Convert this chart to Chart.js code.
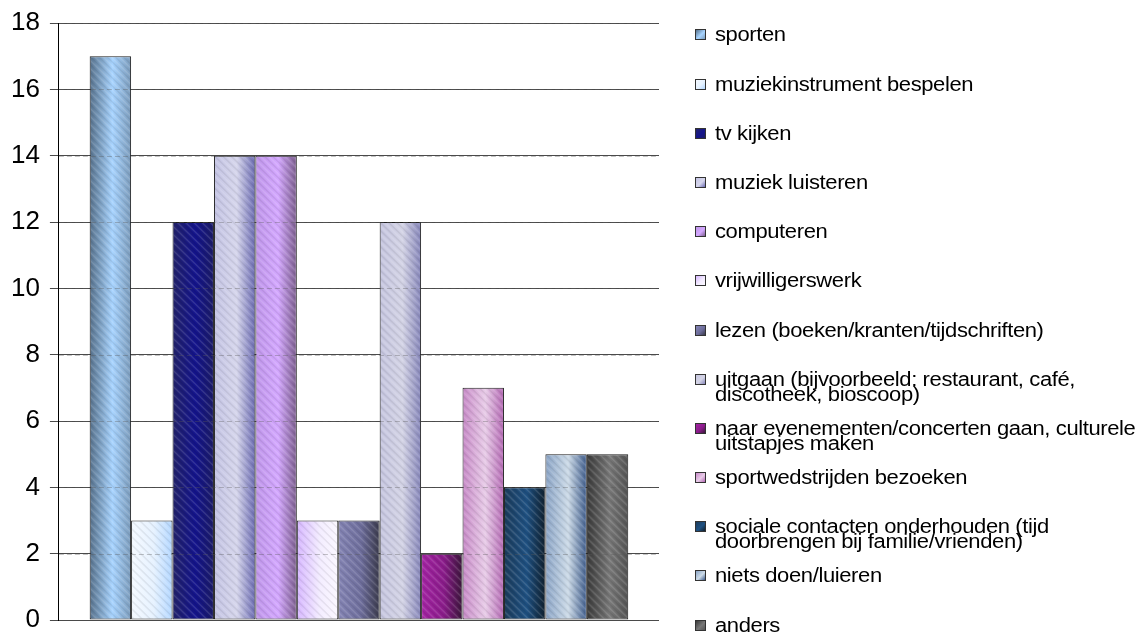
<!DOCTYPE html>
<html>
<head>
<meta charset="utf-8">
<script src="https://cdn.jsdelivr.net/npm/chart.js@4/dist/chart.umd.min.js"></script>
<style>
html,body{margin:0;padding:0;background:#fff;}
#wrap{position:relative;width:1148px;height:635px;overflow:hidden;background:#fff;}
#c{position:absolute;left:0;top:0;}
#legend{position:absolute;left:695px;top:10.4px;}
.item{height:49.2px;box-sizing:border-box;padding-top:17px;display:flex;align-items:flex-start;}
.box{width:9px;height:9px;border:1px solid #333;margin-top:2px;flex:none;}
.txt{margin-left:9px;font-family:"Liberation Sans",Arial,sans-serif;font-size:20px;letter-spacing:-0.35px;line-height:15px;color:#000;transform:scaleX(1.1);transform-origin:left top;white-space:nowrap;}
</style>
</head>
<body>
<div id="wrap">
  <canvas id="c" width="1148" height="635"></canvas>
  <div id="legend"></div>
</div>
<script>
// ---- data ----
const categories = ['vrijetijdsbesteding'];
const seriesNames = [
  ['sporten'],
  ['muziekinstrument bespelen'],
  ['tv kijken'],
  ['muziek luisteren'],
  ['computeren'],
  ['vrijwilligerswerk'],
  ['lezen (boeken/kranten/tijdschriften)'],
  ['uitgaan (bijvoorbeeld: restaurant, café,', 'discotheek, bioscoop)'],
  ['naar evenementen/concerten gaan, culturele', 'uitstapjes maken'],
  ['sportwedstrijden bezoeken'],
  ['sociale contacten onderhouden (tijd', 'doorbrengen bij familie/vrienden)'],
  ['niets doen/luieren'],
  ['anders']
];
const seriesValues = [17, 3, 12, 14, 14, 3, 3, 12, 2, 7, 4, 5, 5];
const yMin = 0, yMax = 18, yStep = 2;

// ---- styles (left edge, middle, right edge of each bar's shading) ----
const palette = [
  ['#56718c', '#a8d4ff', '#7c9cbc'],
  ['#f4f9ff', '#e6f2ff', '#b2d6ff'],
  ['#23236a', '#14148c', '#1c1c66'],
  ['#c4c4e4', '#d6d6ec', '#6a6ab2'],
  ['#bf96ea', '#d4a8ff', '#7c5e8e'],
  ['#d6b6ff', '#f3ecff', '#fbf8ff'],
  ['#8484b4', '#6e6e9c', '#3a3a4c'],
  ['#c6c6e0', '#d4d4e6', '#8686ba'],
  ['#a424a4', '#8a1c8a', '#3a163a'],
  ['#c88ac8', '#e8cce8', '#b468b4'],
  ['#1c3c5c', '#1f5182', '#10202e'],
  ['#8aa4c6', '#cddbe8', '#3e5c8c'],
  ['#3a3a3a', '#787878', '#555555']
];
const catPct = 0.8975;

function barGradient(ctx) {
  const chart = ctx.chart;
  const i = ctx.datasetIndex;
  const cols = palette[i];
  const xs = chart.scales && chart.scales.x;
  if (!chart.chartArea || !xs) return cols[1];
  const center = xs.getPixelForValue(0);
  const catW = xs.width * catPct;
  const bw = catW / seriesValues.length;
  const left = center - catW / 2 + i * bw;
  const g = chart.ctx.createLinearGradient(left, 0, left + bw, 0);
  g.addColorStop(0, cols[0]);
  g.addColorStop(0.55, cols[1]);
  g.addColorStop(1, cols[2]);
  return g;
}

const overlayPlugin = {
  id: 'overlay',
  afterDatasetsDraw(chart) {
    const c = chart.ctx;
    const area = chart.chartArea;
    chart.data.datasets.forEach((ds, di) => {
      const meta = chart.getDatasetMeta(di);
      meta.data.forEach(el => {
        const p = el.getProps(['x', 'y', 'base', 'width'], true);
        const l = p.x - p.width / 2, r = p.x + p.width / 2;
        const t = Math.min(p.y, p.base), b = Math.max(p.y, p.base);
        c.save();
        c.beginPath();
        c.rect(l + 1, t + 1, r - l - 2, b - t - 2);
        c.clip();
        c.lineWidth = 1.5;
        for (let k = -80; k < (b - t) + 80; k += 4) {
          c.strokeStyle = (k / 4) % 2 === 0 ? 'rgba(255,255,255,0.13)' : 'rgba(0,0,0,0.07)';
          c.beginPath();
          c.moveTo(l - 10, t + k - 30);
          c.lineTo(r + 10, t + k + 30);
          c.stroke();
        }
        c.restore();
      });
    });
    const ys = chart.scales.y;
    c.save();
    c.strokeStyle = 'rgba(90,90,90,0.35)';
    c.lineWidth = 1;
    c.setLineDash([5, 3]);
    ys.ticks.forEach(tk => {
      if (tk.value === yMin) return;
      const y = Math.round(ys.getPixelForValue(tk.value)) + 0.5;
      c.beginPath();
      c.moveTo(area.left, y);
      c.lineTo(area.right, y);
      c.stroke();
    });
    c.restore();
  }
};

const datasets = seriesNames.map((n, i) => ({
  label: n.join(' '),
  data: [seriesValues[i]],
  backgroundColor: barGradient,
  borderColor: '#1e1e1e',
  borderWidth: 1,
  borderSkipped: false,
  categoryPercentage: catPct,
  barPercentage: 1
}));

new Chart(document.getElementById('c'), {
  type: 'bar',
  data: { labels: categories, datasets },
  options: {
    responsive: false,
    animation: false,
    layout: { padding: { left: 1, right: 489, top: 23, bottom: 15 } },
    plugins: { legend: { display: false }, tooltip: { enabled: false } },
    scales: {
      x: { display: false },
      y: {
        min: yMin, max: yMax,
        afterFit(scale) { scale.paddingTop = 0; scale.paddingBottom = 0; },
        ticks: {
          stepSize: yStep,
          padding: 10,
          color: '#000',
          font: { family: '"Liberation Sans", Arial, sans-serif', size: 26 }
        },
        grid: { color: '#4a4a4a', lineWidth: 1, tickLength: 9, drawTicks: true },
        border: { display: true, color: '#000', width: 1 }
      }
    }
  },
  plugins: [overlayPlugin]
});

// ---- legend (HTML, built from the same arrays) ----
const lg = document.getElementById('legend');
seriesNames.forEach((lines, i) => {
  const it = document.createElement('div');
  it.className = 'item';
  const bx = document.createElement('div');
  bx.className = 'box';
  const cols = palette[i];
  bx.style.background = 'linear-gradient(135deg,' + cols[0] + ',' + cols[1] + ' 55%,' + cols[2] + ')';
  const tx = document.createElement('div');
  tx.className = 'txt';
  lines.forEach((ln, k) => {
    if (k) tx.appendChild(document.createElement('br'));
    tx.appendChild(document.createTextNode(ln));
  });
  it.appendChild(bx);
  it.appendChild(tx);
  lg.appendChild(it);
});
</script>
</body>
</html>
